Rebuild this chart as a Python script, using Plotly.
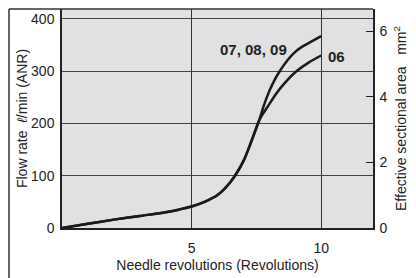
import plotly.graph_objects as go

# Needle revolutions and flow rate (l/min ANR)
rev_common = [0, 1, 2, 3, 4, 4.5, 5, 5.5, 6, 6.5, 7, 7.3, 7.6]
flow_common = [0, 8, 16, 23, 30, 35, 41, 50, 63, 88, 128, 165, 205]

rev_upper = [7.8, 8.0, 8.2, 8.4, 8.7, 9.0, 9.3, 9.6, 10]
flow_upper = [236, 262, 283, 300, 321, 337, 348, 356, 367]   # 07, 08, 09

rev_lower = [7.8, 8.0, 8.25, 8.5, 9.0, 9.5, 10]
flow_lower = [222, 237, 256, 272, 298, 316, 330]        # 06

left_ticks = [0, 100, 200, 300, 400]
right_ticks = [0, 2, 4, 6]
x_ticks = [5, 10]

FONT = "Liberation Sans, Arial, sans-serif"
INK = "#222"

fig = go.Figure()
line = dict(color="#1a1a1a", width=2.5, shape="spline", smoothing=0.8)
fig.add_trace(go.Scatter(x=rev_common + rev_upper, y=flow_common + flow_upper,
                         mode="lines", line=line, showlegend=False, hoverinfo="skip"))
fig.add_trace(go.Scatter(x=rev_common + rev_lower, y=flow_common + flow_lower,
                         mode="lines", line=line, showlegend=False, hoverinfo="skip"))
# dummy trace for right axis
fig.add_trace(go.Scatter(x=[None], y=[None], yaxis="y2", showlegend=False))

fig.add_annotation(x=7.4, y=342, text="<b>07, 08, 09</b>", showarrow=False,
                   font=dict(family=FONT, size=15, color=INK))
fig.add_annotation(x=10.6, y=329, text="<b>06</b>", showarrow=False,
                   font=dict(family=FONT, size=15, color=INK))

# outer frame: left and top lines (plot area 311x219 px)
fx = -53.0 / 311
fig.add_shape(type="line", xref="paper", yref="paper", x0=fx, x1=fx, y0=1.0, y1=-0.25,
              line=dict(color="#333", width=1.5), layer="above")
fig.add_shape(type="line", xref="paper", yref="paper", x0=fx, x1=1.0, y0=1.0, y1=1.0,
              line=dict(color="#333", width=1.5), layer="above")

# page body has an 8px margin: figure is shifted by 8px
fig.update_layout(
    width=408, height=270,
    margin=dict(l=54, r=43, t=1, b=50),
    paper_bgcolor="white", plot_bgcolor="#e1e1e3",
    font=dict(family=FONT, size=14, color=INK),
    xaxis=dict(range=[0, 12], tickvals=x_ticks, showgrid=True, gridcolor="#333", gridwidth=1,
               showline=True, linecolor="#222", linewidth=1.5, ticks="", zeroline=False,
               ticklabelstandoff=6,
               title=dict(text="Needle revolutions (Revolutions)", standoff=6,
                          font=dict(size=14))),
    yaxis=dict(range=[0, 419], tickvals=left_ticks, showgrid=True, gridcolor="#444", gridwidth=1,
               showline=True, linecolor="#222", linewidth=1.5, ticks="", zeroline=False,
               ticklabelstandoff=3,
               title=dict(text="Flow rate  <i>ℓ</i>/min (ANR)", standoff=0,
                          font=dict(size=14))),
    yaxis2=dict(range=[0, 6.67], tickvals=right_ticks, overlaying="y", side="right",
                showgrid=False, showline=True, linecolor="#222", linewidth=1.5,
                ticks="inside", ticklen=7, tickcolor="#222", zeroline=False,
                ticklabelstandoff=2,
                title=dict(text="Effective sectional area   mm<sup>2</sup>", standoff=10,
                           font=dict(size=14))),
)

fig.write_html("out.html")
